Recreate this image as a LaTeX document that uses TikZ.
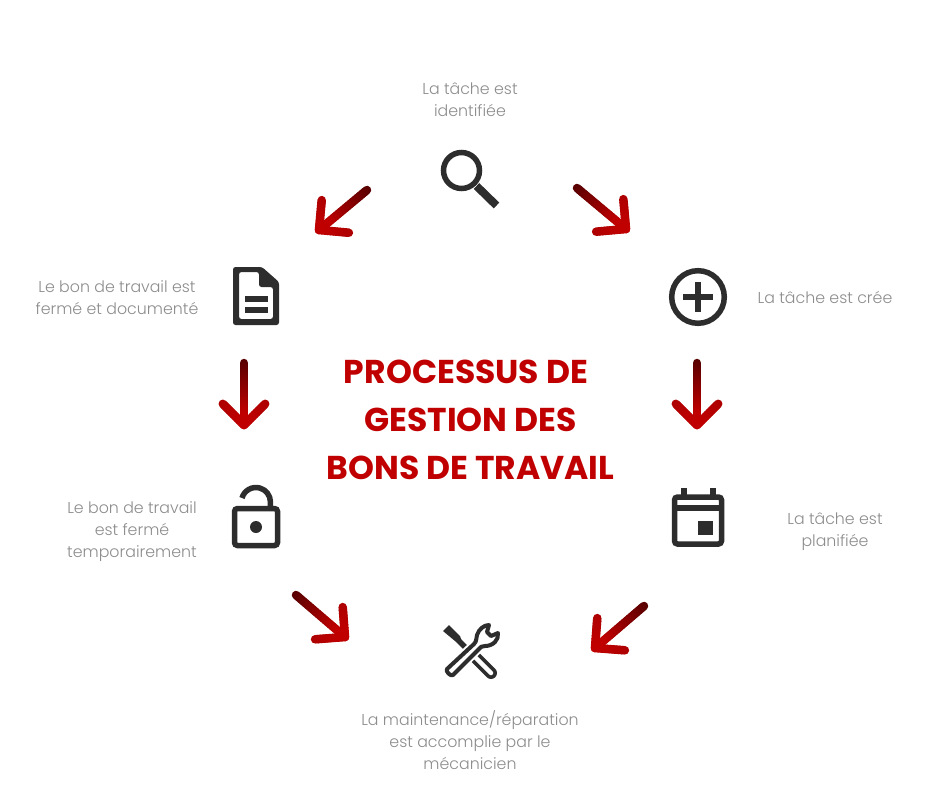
\documentclass[tikz,border=0pt]{standalone}
\usepackage{fontspec}
\setmainfont{Poppins}
\newfontfamily\lightfont{Poppins Light}
\usetikzlibrary{calc}
\definecolor{icongrey}{HTML}{2D2D2D}
\definecolor{labelgrey}{HTML}{8C8C8C}
\definecolor{titlered}{HTML}{C00000}
\definecolor{arrowdark}{HTML}{5A0000}
\definecolor{arrowred}{HTML}{C00000}
\tikzset{
  steplabel/.style={text=labelgrey, font=\fontsize{15.8}{22}\lightfont, align=center},
  headingtext/.style={text=titlered, font=\fontsize{33}{48}\selectfont\bfseries, align=center},
  iconline/.style={draw=icongrey, line width=5.5pt},
  iconfill/.style={fill=icongrey, draw=none},
  arrowpart/.style={line width=8.5pt, line cap=round},
  searchicon/.pic={
    \draw[iconline] (0,0) circle (18);
    \draw[icongrey, line width=8pt] (15,15.5) -- (35,35);
  },
  plusicon/.pic={
    \draw[iconline] (0,0) circle (26.3);
    \draw[iconfill] (-15,-3) rectangle (15,3);
    \draw[iconfill] (-3,-15) rectangle (3,15);
  },
  calendaricon/.pic={
    \draw[iconline, rounded corners=3pt] (-23.5,-23) rectangle (23.5,24);
    \draw[iconfill] (-26,-15) rectangle (26,-9);
    \draw[iconfill] (-17,-32) rectangle (-11,-24);
    \draw[iconfill] (12,-32) rectangle (18,-24);
    \draw[iconfill] (0,1) rectangle (15,15);
  },
  docicon/.pic={
    \fill[icongrey, even odd rule, rounded corners=2.5pt] (-23,-29) -- (6,-29) -- (23,-14) -- (23,29) -- (-23,29) -- cycle
      (-17,-24) -- (3,-24) -- (3,-9) -- (17,-9) -- (17,23) -- (-17,23) -- cycle;
    \draw[iconfill] (-11,0) rectangle (12,6);
    \draw[iconfill] (-11,11) rectangle (12,17);
  },
  lockicon/.pic={
    \draw[iconline, rounded corners=3pt] (-21.5,-18.5) rectangle (21.5,18.5);
    \draw[iconline] (-14,-29) arc[start angle=196, end angle=360, radius=14.5] -- (14.5,-21);
    \draw[iconfill] (0,0) circle (6);
  },
  toolsicon/.pic={
    % screwdriver
    \fill[icongrey] (-28,-19) -- (-22,-25) -- (-11,-14) -- (-9,-8) -- (-16,-9) -- cycle;
    \draw[icongrey, line width=5.5pt] (-14,-11) -- (1,4);
    \draw[icongrey, line width=12pt, line cap=round] (3,6) -- (20,23);
    \draw[white, line width=4.5pt, line cap=round] (3,6) -- (20,23);
    % wrench
    \draw[icongrey, fill=white, line width=4pt, line join=round, preaction={draw=white, line width=8pt}]
      (-24,19) -- (3,-6) .. controls (6,-9) and (5,-12) .. (6,-15)
      .. controls (8,-21) and (13,-25) .. (18,-25) -- (16,-18) -- (20,-14) -- (27,-17)
      .. controls (28,-10) and (22,-4) .. (14,-4) .. controls (11,-4) and (9,-3) .. (8,-1)
      -- (-18,25) .. controls (-20,27) and (-26,21) .. (-24,19) -- cycle;
  }
}
% tail to tip, colour runs from dark to red
\newcommand{\flowarrow}[2]{%
  \coordinate (#1barba) at ($(#2)!30pt!45:(#1)$);
  \coordinate (#1barbb) at ($(#2)!30pt!-45:(#1)$);
  \foreach \n in {0,...,19} {
    \pgfmathsetmacro{\mix}{min(100,\n*6)}
    \draw[arrowpart, arrowred!\mix!arrowdark] ($(#1)!\n/20!(#2)$) -- ($(#1)!\n/20+0.05!(#2)$);
  }
  \foreach \n in {9,8,...,0} {
    \pgfmathsetmacro{\mix}{100-\n*2}
    \draw[arrowpart, arrowred!\mix!arrowdark] ($(#2)!\n/10+0.1!(#1barba)$) -- ($(#2)!\n/10!(#1barba)$);
    \draw[arrowpart, arrowred!\mix!arrowdark] ($(#2)!\n/10+0.1!(#1barbb)$) -- ($(#2)!\n/10!(#1barbb)$);
  }
}
\begin{document}
\begin{tikzpicture}[x=1pt, y=1pt, yscale=-1, every pic/.style={yscale=-1}]
  \useasboundingbox (0,0) rectangle (940,788);

  % Define labels
  \node[steplabel] (identified) at (470,100) {La tâche est\\identifiée};
  \node[steplabel] (created) at (825,297) {La tâche est crée};
  \node[steplabel] (planned) at (835,532) {La tâche est\\planifiée};
  \node[steplabel] (done) at (470,740) {La maintenance/réparation\\est accomplie par le\\mécanicien};
  \node[steplabel] (paused) at (132,532) {Le bon de travail\\est fermé\\temporairement};
  \node[steplabel] (closed) at (117,298) {Le bon de travail est\\fermé et documenté};
  \node[headingtext] (heading) at (470.5,420) {PROCESSUS DE\hspace*{9pt}\\GESTION DES\\BONS DE TRAVAIL};

  % Define icons
  \pic at (461.5,170.5) {searchicon};
  \pic at (698,297) {plusicon};
  \pic at (698,520) {calendaricon};
  \pic at (471,650) {toolsicon};
  \pic at (256,527) {lockicon};
  \pic at (256,296) {docicon};

  % Define arrow ends
  \coordinate (taila) at (577,188);   \coordinate (tipa) at (626,229);
  \coordinate (tailb) at (697,363);   \coordinate (tipb) at (697,425);
  \coordinate (tailc) at (644,606);   \coordinate (tipc) at (595,648);
  \coordinate (taild) at (296,595);   \coordinate (tipd) at (345,637);
  \coordinate (taile) at (244,363);   \coordinate (tipe) at (244,425);
  \coordinate (tailf) at (367,190);   \coordinate (tipf) at (319,230);

  % Connect the steps
  \flowarrow{taila}{tipa}
  \flowarrow{tailb}{tipb}
  \flowarrow{tailc}{tipc}
  \flowarrow{taild}{tipd}
  \flowarrow{taile}{tipe}
  \flowarrow{tailf}{tipf}

\end{tikzpicture}
\end{document}
